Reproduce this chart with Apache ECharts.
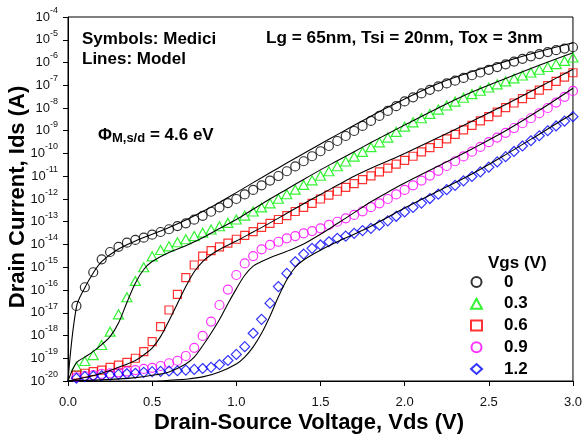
<!DOCTYPE html>
<html>
<head>
<meta charset="utf-8">
<script src="https://cdn.jsdelivr.net/npm/echarts@6/dist/echarts.min.js"></script>
<style>
  html, body { margin: 0; padding: 0; background: #fff; }
  #chart { width: 585px; height: 436px; }
</style>
</head>
<body>
<div id="chart"></div>
<script>
// Drain current vs drain-source voltage for five gate voltages.
// Currents are stored as log10(Ids / A); symbols = Medici, lines = model.

const vgsNames = ['0', '0.3', '0.6', '0.9', '1.2'];
const colors = ['#000000', '#00f000', '#ff0000', '#ff00ff', '#0000ff'];
const symbols = ['circle', 'triangle', 'rect', 'circle', 'diamond'];

// Medici sample points
const vdsMedici = [
  0.05, 0.10, 0.15, 0.20, 0.25, 0.30, 0.35, 0.40, 0.45, 0.50,
  0.55, 0.60, 0.65, 0.70, 0.75, 0.80, 0.85, 0.90, 0.95, 1.00,
  1.05, 1.10, 1.15, 1.20, 1.25, 1.30, 1.35, 1.40, 1.45, 1.50,
  1.55, 1.60, 1.65, 1.70, 1.75, 1.80, 1.85, 1.90, 1.95, 2.00,
  2.05, 2.10, 2.15, 2.20, 2.25, 2.30, 2.35, 2.40, 2.45, 2.50,
  2.55, 2.60, 2.65, 2.70, 2.75, 2.80, 2.85, 2.90, 2.95, 3.00
];

const mediciVgs00 = [
  -16.70, -15.88, -15.22, -14.65, -14.33, -14.10, -13.92, -13.80, -13.70, -13.57,
  -13.45, -13.33, -13.19, -13.07, -12.91, -12.74, -12.56, -12.37, -12.18, -12.00,
  -11.80, -11.60, -11.40, -11.19, -10.99, -10.78, -10.57, -10.34, -10.12, -9.90,
  -9.67, -9.45, -9.23, -9.01, -8.79, -8.57, -8.35, -8.13, -7.92, -7.71,
  -7.53, -7.36, -7.20, -7.05, -6.92, -6.80, -6.68, -6.56, -6.44, -6.32,
  -6.20, -6.08, -5.96, -5.84, -5.73, -5.63, -5.54, -5.46, -5.39, -5.33
];
const mediciVgs03 = [
  -19.37, -19.12, -18.86, -18.42, -17.83, -17.07, -16.32, -15.60, -15.00, -14.52,
  -14.24, -14.08, -13.90, -13.77, -13.63, -13.48, -13.34, -13.20, -13.05, -12.90,
  -12.73, -12.55, -12.37, -12.19, -11.99, -11.79, -11.59, -11.38, -11.18, -10.98,
  -10.78, -10.56, -10.35, -10.14, -9.93, -9.72, -9.51, -9.30, -9.05, -8.82,
  -8.63, -8.45, -8.26, -8.07, -7.89, -7.72, -7.55, -7.39, -7.24, -7.10,
  -6.96, -6.83, -6.70, -6.57, -6.44, -6.32, -6.20, -6.07, -5.93, -5.78
];
const mediciVgs06 = [
  -19.74, -19.66, -19.59, -19.52, -19.40, -19.30, -19.18, -19.00, -18.71, -18.27,
  -17.61, -16.88, -16.19, -15.46, -14.90, -14.51, -14.27, -14.10, -13.94, -13.77,
  -13.60, -13.43, -13.25, -13.07, -12.90, -12.73, -12.55, -12.37, -12.19, -12.00,
  -11.83, -11.66, -11.49, -11.32, -11.15, -10.98, -10.81, -10.64, -10.47, -10.30,
  -10.12, -9.93, -9.74, -9.56, -9.36, -9.16, -8.96, -8.76, -8.57, -8.38,
  -8.18, -7.98, -7.78, -7.59, -7.40, -7.21, -7.02, -6.83, -6.64, -6.45
];
const mediciVgs09 = [
  -19.84, -19.78, -19.74, -19.69, -19.66, -19.62, -19.58, -19.52, -19.47, -19.42,
  -19.34, -19.22, -19.11, -18.90, -18.54, -18.02, -17.39, -16.66, -15.98, -15.34,
  -14.83, -14.51, -14.21, -14.02, -13.88, -13.73, -13.63, -13.51, -13.41, -13.29,
  -13.14, -13.00, -12.85, -12.70, -12.54, -12.36, -12.19, -12.00, -11.80, -11.60,
  -11.40, -11.19, -10.97, -10.76, -10.55, -10.34, -10.13, -9.92, -9.71, -9.50,
  -9.30, -9.09, -8.88, -8.67, -8.45, -8.23, -8.00, -7.76, -7.51, -7.25
];
const mediciVgs12 = [
  -19.88, -19.81, -19.78, -19.77, -19.74, -19.71, -19.68, -19.66, -19.62, -19.59,
  -19.58, -19.56, -19.55, -19.52, -19.49, -19.45, -19.40, -19.28, -19.10, -18.83,
  -18.49, -17.90, -17.29, -16.58, -15.85, -15.27, -14.76, -14.42, -14.17, -14.02,
  -13.88, -13.73, -13.63, -13.51, -13.39, -13.29, -13.15, -12.96, -12.76, -12.57,
  -12.37, -12.18, -11.98, -11.79, -11.59, -11.40, -11.20, -11.01, -10.81, -10.60,
  -10.37, -10.14, -9.91, -9.67, -9.44, -9.22, -9.00, -8.79, -8.58, -8.38
];

// Model curves
const modelVds00 = [0, 0.05, 0.1, 0.15, 0.2, 0.3, 0.4, 0.5, 0.6, 0.7, 0.8, 0.9, 1.0, 1.1, 1.2, 1.3, 1.4, 1.5, 1.6, 1.7, 1.8, 1.9, 2.0, 2.2, 2.4, 2.6, 2.8, 3.0];
const modelVgs00 = [-20, -16.75, -15.9, -15.25, -14.75, -14.2, -13.85, -13.55, -13.25, -12.92, -12.55, -12.15, -11.72, -11.28, -10.85, -10.42, -10.0, -9.58, -9.17, -8.76, -8.36, -7.97, -7.6, -6.92, -6.4, -5.95, -5.52, -5.13];

const modelVds03 = [0, 0.05, 0.1, 0.15, 0.2, 0.25, 0.3, 0.35, 0.4, 0.45, 0.5, 0.6, 0.7, 0.8, 0.9, 1.0, 1.1, 1.2, 1.3, 1.4, 1.5, 1.6, 1.7, 1.8, 1.9, 2.0, 2.2, 2.4, 2.6, 2.8, 3.0];
const modelVgs03 = [-20, -19.2, -18.95, -18.7, -18.4, -18.05, -17.45, -16.55, -15.7, -15.1, -14.75, -14.35, -14.05, -13.7, -13.3, -12.9, -12.45, -12.0, -11.57, -11.14, -10.72, -10.32, -9.92, -9.52, -9.13, -8.75, -8.0, -7.3, -6.7, -6.12, -5.57];

const modelVds06 = [0, 0.1, 0.2, 0.3, 0.4, 0.45, 0.5, 0.55, 0.6, 0.65, 0.7, 0.75, 0.8, 0.85, 0.9, 1.0, 1.1, 1.2, 1.3, 1.4, 1.5, 1.6, 1.7, 1.8, 1.9, 2.0, 2.2, 2.4, 2.6, 2.8, 3.0];
const modelVgs06 = [-20, -19.85, -19.66, -19.4, -19.1, -18.85, -18.55, -18.05, -17.35, -16.6, -15.85, -15.2, -14.75, -14.45, -14.22, -13.85, -13.45, -13.05, -12.63, -12.21, -11.8, -11.4, -11.0, -10.65, -10.33, -10.0, -9.3, -8.58, -7.85, -7.08, -6.3];

const modelVds09 = [0, 0.2, 0.4, 0.5, 0.6, 0.7, 0.75, 0.8, 0.85, 0.9, 0.95, 1.0, 1.05, 1.1, 1.15, 1.2, 1.3, 1.4, 1.5, 1.6, 1.7, 1.8, 1.9, 2.0, 2.2, 2.4, 2.6, 2.8, 3.0];
const modelVgs09 = [-20, -19.95, -19.85, -19.75, -19.6, -19.25, -18.95, -18.45, -17.9, -17.3, -16.6, -15.95, -15.35, -14.95, -14.75, -14.58, -14.3, -13.98, -13.55, -13.08, -12.6, -12.12, -11.7, -11.3, -10.55, -9.8, -9.0, -8.1, -7.13];

const modelVds12 = [0.3, 0.4, 0.5, 0.6, 0.7, 0.8, 0.9, 1.0, 1.05, 1.1, 1.15, 1.2, 1.25, 1.3, 1.35, 1.4, 1.5, 1.6, 1.7, 1.8, 1.9, 2.0, 2.2, 2.4, 2.6, 2.8, 3.0];
const modelVgs12 = [-20.4, -20.2, -20.05, -19.97, -19.92, -19.82, -19.6, -19.25, -18.95, -18.5, -17.9, -17.15, -16.3, -15.55, -15.0, -14.68, -14.25, -13.88, -13.55, -13.2, -12.8, -12.4, -11.65, -10.9, -10.05, -9.15, -8.24];

const xTickLabels = ['0.0', '0.5', '1.0', '1.5', '2.0', '2.5', '3.0'];

const mediciSets = [mediciVgs00, mediciVgs03, mediciVgs06, mediciVgs09, mediciVgs12];
const modelSets = [
  [modelVds00, modelVgs00], [modelVds03, modelVgs03], [modelVds06, modelVgs06],
  [modelVds09, modelVgs09], [modelVds12, modelVgs12]
];

const FONT = '"Liberation Sans", Arial, Helvetica, sans-serif';
const toAmps = (e) => Math.pow(10, e);

const symbolSizes = { circle: 9, triangle: [10, 9], rect: [8, 8], diamond: [10, 10] };

const series = [];
mediciSets.forEach((logs, i) => {
  series.push({
    name: vgsNames[i],
    type: 'scatter',
    symbol: symbols[i],
    symbolSize: symbolSizes[symbols[i]],
    itemStyle: { color: 'rgba(255,255,255,0)', borderColor: colors[i], borderWidth: 1.2 },
    emphasis: { disabled: true },
    z: 2,
    data: logs.map((e, k) => [vdsMedici[k], toAmps(e)])
  });
});
modelSets.forEach(([vds, logs], i) => {
  series.push({
    name: 'model ' + vgsNames[i],
    type: 'line',
    showSymbol: false,
    smooth: 0.35,
    clip: true,
    lineStyle: { color: '#000', width: 1.1 },
    emphasis: { disabled: true },
    z: 3,
    data: logs.map((e, k) => [vds[k], toAmps(e)])
  });
});

// bold annotation text
const text = (x, y, str, size, align) => ({
  type: 'text', x: x, y: y,
  style: {
    text: str, font: 'bold ' + size + 'px ' + FONT, fill: '#000',
    align: align || 'left', verticalAlign: 'middle',
    textAlign: align || 'left', textVerticalAlign: 'middle'
  }
});

const chart = echarts.init(document.getElementById('chart'), null, { renderer: 'canvas' });
chart.setOption({
  animation: false,
  backgroundColor: '#fff',
  grid: { left: 68, right: 11, top: 17, bottom: 55, show: true, borderColor: '#000', borderWidth: 1, backgroundColor: 'transparent' },
  xAxis: {
    type: 'value', min: 0, max: 3, interval: 0.5,
    axisLine: { show: true, lineStyle: { color: '#000', width: 1 } },
    axisTick: { show: true, inside: false, length: 5, lineStyle: { color: '#000' } },
    splitLine: { show: false },
    axisLabel: {
      color: '#111', fontSize: 13, fontFamily: FONT, margin: 15,
      formatter: (v) => xTickLabels[Math.round(v / 0.5)]
    }
  },
  yAxis: {
    type: 'log', logBase: 10, min: 1e-20, max: 1e-4, interval: 1, splitNumber: 16,
    axisLine: { show: true, lineStyle: { color: '#000', width: 1 } },
    axisTick: { show: true, inside: false, length: 5, lineStyle: { color: '#000' } },
    splitLine: { show: false },
    minorTick: { show: false },
    axisLabel: {
      color: '#111', fontFamily: FONT, margin: 10,
      formatter: (v) => '{b|10}{s|' + Math.round(Math.log10(v)) + '}',
      rich: {
        b: { fontSize: 13, lineHeight: 22, fontFamily: FONT, color: '#111' },
        s: { fontSize: 9, lineHeight: 10, verticalAlign: 'top', fontFamily: FONT, color: '#111' }
      }
    }
  },
  legend: {
    data: vgsNames,
    orient: 'vertical',
    left: 470, top: 272,
    padding: 0,
    itemWidth: 11, itemHeight: 10,
    itemGap: 1.75,
    selectedMode: false,
    textStyle: { fontSize: 17, fontWeight: 'bold', fontFamily: FONT, color: '#000', lineHeight: 20, padding: [0, 0, 0, 17] }
  },
  graphic: [
    text(82, 39, 'Symbols: Medici', 17),
    text(82, 59, 'Lines: Model', 17),
    text(266, 38, 'Lg = 65nm, Tsi = 20nm, Tox = 3nm', 17.2),
    {
      type: 'text', x: 98, y: 135,
      style: {
        text: '{a|\u03A6}{s|M,s/d}{a| = 4.6 eV}',
        align: 'left', verticalAlign: 'middle', textAlign: 'left', textVerticalAlign: 'middle',
        rich: {
          a: { font: 'bold 17px ' + FONT, fill: '#000', lineHeight: 20 },
          s: { font: 'bold 13px ' + FONT, fill: '#000', lineHeight: 12, verticalAlign: 'bottom' }
        }
      }
    },
    text(488, 263, 'Vgs (V)', 17),
    text(309, 423, 'Drain-Source Voltage, Vds (V)', 22, 'center'),
    {
      type: 'text', x: 18, y: 197, rotation: Math.PI / 2,
      style: {
        text: 'Drain Current, Ids (A)', font: 'bold 22px ' + FONT, fill: '#000',
        align: 'center', verticalAlign: 'middle', textAlign: 'center', textVerticalAlign: 'middle'
      }
    }
  ],
  series: series
});
</script>
</body>
</html>
